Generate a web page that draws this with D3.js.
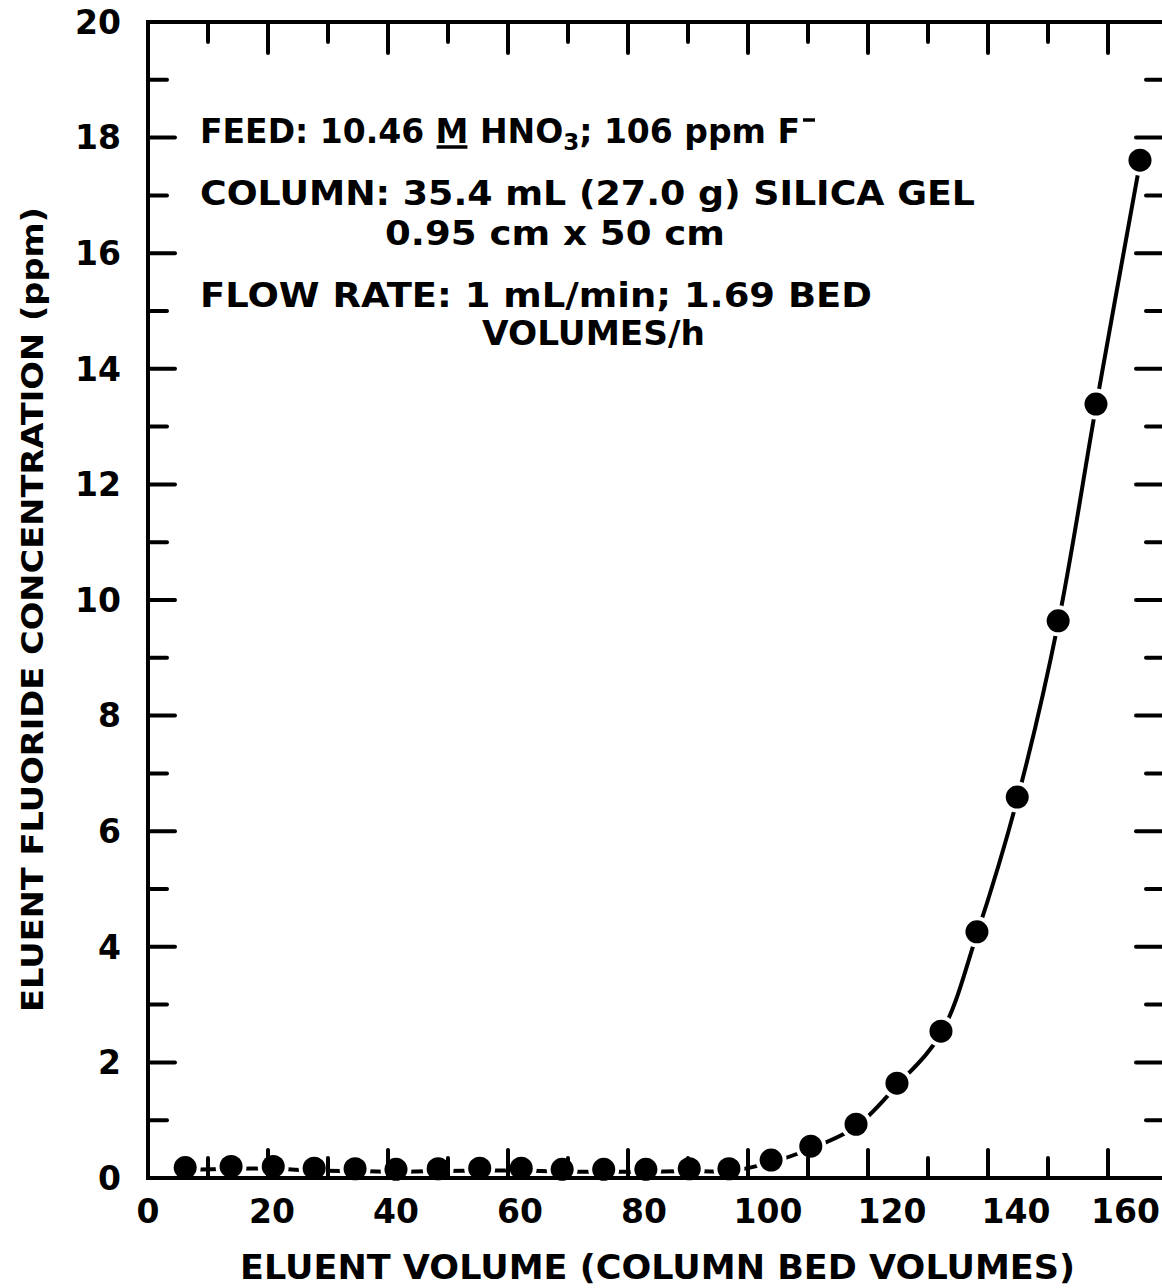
<!DOCTYPE html>
<html>
<head>
<meta charset="utf-8">
<script src="https://cdn.jsdelivr.net/npm/d3@7"></script>
<style>
  html, body { margin: 0; padding: 0; background: #fff; }
  svg { display: block; }
  text { font-family: "DejaVu Sans", "Liberation Sans", sans-serif; font-weight: bold; fill: #000; }
</style>
</head>
<body>
<script>
// ---- data ----
const volumeBV = [6.0, 13.4, 20.2, 26.8, 33.4, 40.0, 46.8, 53.5, 60.2, 66.8, 73.5, 80.3, 87.3, 93.7,
                  100.5, 106.9, 114.2, 120.8, 127.9, 133.7, 140.2, 146.8, 152.9, 160.0];
const fluoridePpm = [0.18, 0.20, 0.20, 0.17, 0.16, 0.15, 0.16, 0.17, 0.17, 0.15, 0.15, 0.15, 0.16, 0.16,
                     0.31, 0.55, 0.93, 1.64, 2.54, 4.26, 6.59, 9.64, 13.39, 17.61];
const xTickLabels = [0, 20, 40, 60, 80, 100, 120, 140, 160];
const yTickLabels = [0, 2, 4, 6, 8, 10, 12, 14, 16, 18, 20];
const yTickMarks = d3.range(1, 20, 1);          // every 1 ppm, major at even
const paperTickMarks = d3.range(10, 170, 10);   // graph-paper ticks along top/bottom, major every 20
const xTitle = "ELUENT VOLUME (COLUMN BED VOLUMES)";
const yTitle = "ELUENT FLUORIDE CONCENTRATION (ppm)";

(function () {
const W = 1162, H = 1288;
const svg = d3.select("body").append("svg").attr("width", W).attr("height", H);

const pL = 148, pR = 1164, pT = 22, pB = 1178;
const x = d3.scaleLinear().domain([0, 160]).range([pL, 1140]);
const xPaper = d3.scaleLinear().domain([0, 170]).range([pL, 1168]);
const y = d3.scaleLinear().domain([0, 20]).range([pB, pT]);

const pts = volumeBV.map((v, i) => [v, fluoridePpm[i]]);

// curve
const line = d3.line().x(d => x(d[0])).y(d => y(d[1] - 0.04)).curve(d3.curveCatmullRom.alpha(0.5));
svg.append("path").datum(pts).attr("d", line)
  .attr("fill", "none").attr("stroke", "#000").attr("stroke-width", 4).attr("stroke-linecap", "round");

// white halos to break the curve around markers
svg.append("g").selectAll("circle").data(pts).join("circle")
  .attr("cx", d => x(d[0])).attr("cy", d => y(d[1])).attr("r", 15.5).attr("fill", "#fff");

// frame
const frame = svg.append("g").attr("stroke", "#000").attr("stroke-width", 4).attr("stroke-linecap", "square");
frame.append("line").attr("x1", pL).attr("x2", pL).attr("y1", pT).attr("y2", pB);
frame.append("line").attr("x1", pL).attr("x2", pR + 10).attr("y1", pT).attr("y2", pT);
frame.append("line").attr("x1", pL).attr("x2", pR + 10).attr("y1", pB).attr("y2", pB);
frame.append("line").attr("x1", pR).attr("x2", pR).attr("y1", pT).attr("y2", pB);

const isMajorPaper = v => v % 20 === 0;
const ticks = svg.append("g").attr("stroke", "#000").attr("stroke-width", 4).attr("stroke-linecap", "round");
ticks.selectAll(".tt").data(paperTickMarks).join("line").attr("class", "tt")
  .attr("x1", d => xPaper(d)).attr("x2", d => xPaper(d))
  .attr("y1", pT).attr("y2", d => pT + (isMajorPaper(d) ? 31 : 20));
ticks.selectAll(".bt").data(paperTickMarks).join("line").attr("class", "bt")
  .attr("x1", d => xPaper(d)).attr("x2", d => xPaper(d))
  .attr("y1", pB).attr("y2", d => pB - (isMajorPaper(d) ? 28 : 20));
ticks.selectAll(".lt").data(yTickMarks).join("line").attr("class", "lt")
  .attr("y1", d => y(d)).attr("y2", d => y(d))
  .attr("x1", pL).attr("x2", d => pL + (d % 2 === 0 ? 27 : 19));
ticks.selectAll(".rt").data(yTickMarks).join("line").attr("class", "rt")
  .attr("y1", d => y(d)).attr("y2", d => y(d))
  .attr("x1", pR).attr("x2", d => pR - (d % 2 === 0 ? 28 : 18));

// markers
svg.append("g").selectAll("circle").data(pts).join("circle")
  .attr("cx", d => x(d[0])).attr("cy", d => y(d[1])).attr("r", 11.5).attr("fill", "#000");

// tick labels
svg.append("g").selectAll("text").data(yTickLabels).join("text")
  .attr("x", 121).attr("y", d => y(d)).attr("dy", "0.36em")
  .attr("text-anchor", "end").attr("font-size", 33).text(d => d);
const xl = svg.append("g").selectAll("text").data(xTickLabels).join("text")
  .attr("x", d => x(d)).attr("y", 1223)
  .attr("text-anchor", "middle").attr("font-size", 33).text(d => d);
xl.each(function () {
  const b = this.getBBox();
  if (b.x + b.width > W - 2) d3.select(this).attr("x", +d3.select(this).attr("x") - (b.x + b.width - (W - 2)));
});

// axis titles
svg.append("text").attr("x", 240).attr("y", 1279).attr("font-size", 33)
  .attr("textLength", 835).attr("lengthAdjust", "spacingAndGlyphs").text(xTitle);
svg.append("text").attr("transform", "translate(43,1012) rotate(-90)").attr("font-size", 31)
  .attr("textLength", 805).attr("lengthAdjust", "spacingAndGlyphs").text(yTitle);

// annotation line 1 (plain text, underline & superscript drawn as marks)
const fs = 33;
const t1 = svg.append("text").attr("x", 200).attr("y", 143).attr("font-size", fs);
t1.append("tspan").text("FEED: 10.46 M HNO");
t1.append("tspan").attr("font-size", 23).attr("dy", 7).text("3");
t1.append("tspan").attr("dy", -7).text("; 106 ppm F");
const node = t1.node();
// underline under the "M" (char index 12)
const mStart = node.getStartPositionOfChar(12).x, mEnd = node.getEndPositionOfChar(12).x;
svg.append("line").attr("x1", mStart + 1).attr("x2", mEnd - 1).attr("y1", 147).attr("y2", 147)
  .attr("stroke", "#000").attr("stroke-width", 3.5);
// superscript minus after "F"
const fEnd = node.getEndPositionOfChar(node.getNumberOfChars() - 1).x;
svg.append("line").attr("x1", fEnd + 3).attr("x2", fEnd + 15).attr("y1", 120).attr("y2", 120)
  .attr("stroke", "#000").attr("stroke-width", 3.5);

svg.append("text").attr("x", 200).attr("y", 205).attr("font-size", fs)
  .attr("textLength", 775).attr("lengthAdjust", "spacingAndGlyphs").text("COLUMN: 35.4 mL (27.0 g) SILICA GEL");
svg.append("text").attr("x", 385).attr("y", 245).attr("font-size", fs)
  .attr("textLength", 340).attr("lengthAdjust", "spacingAndGlyphs").text("0.95 cm x 50 cm");
svg.append("text").attr("x", 200).attr("y", 307).attr("font-size", fs)
  .attr("textLength", 672).attr("lengthAdjust", "spacingAndGlyphs").text("FLOW RATE: 1 mL/min; 1.69 BED");
svg.append("text").attr("x", 482).attr("y", 345).attr("font-size", fs)
  .attr("textLength", 223).attr("lengthAdjust", "spacingAndGlyphs").text("VOLUMES/h");
})();
</script>
</body>
</html>
